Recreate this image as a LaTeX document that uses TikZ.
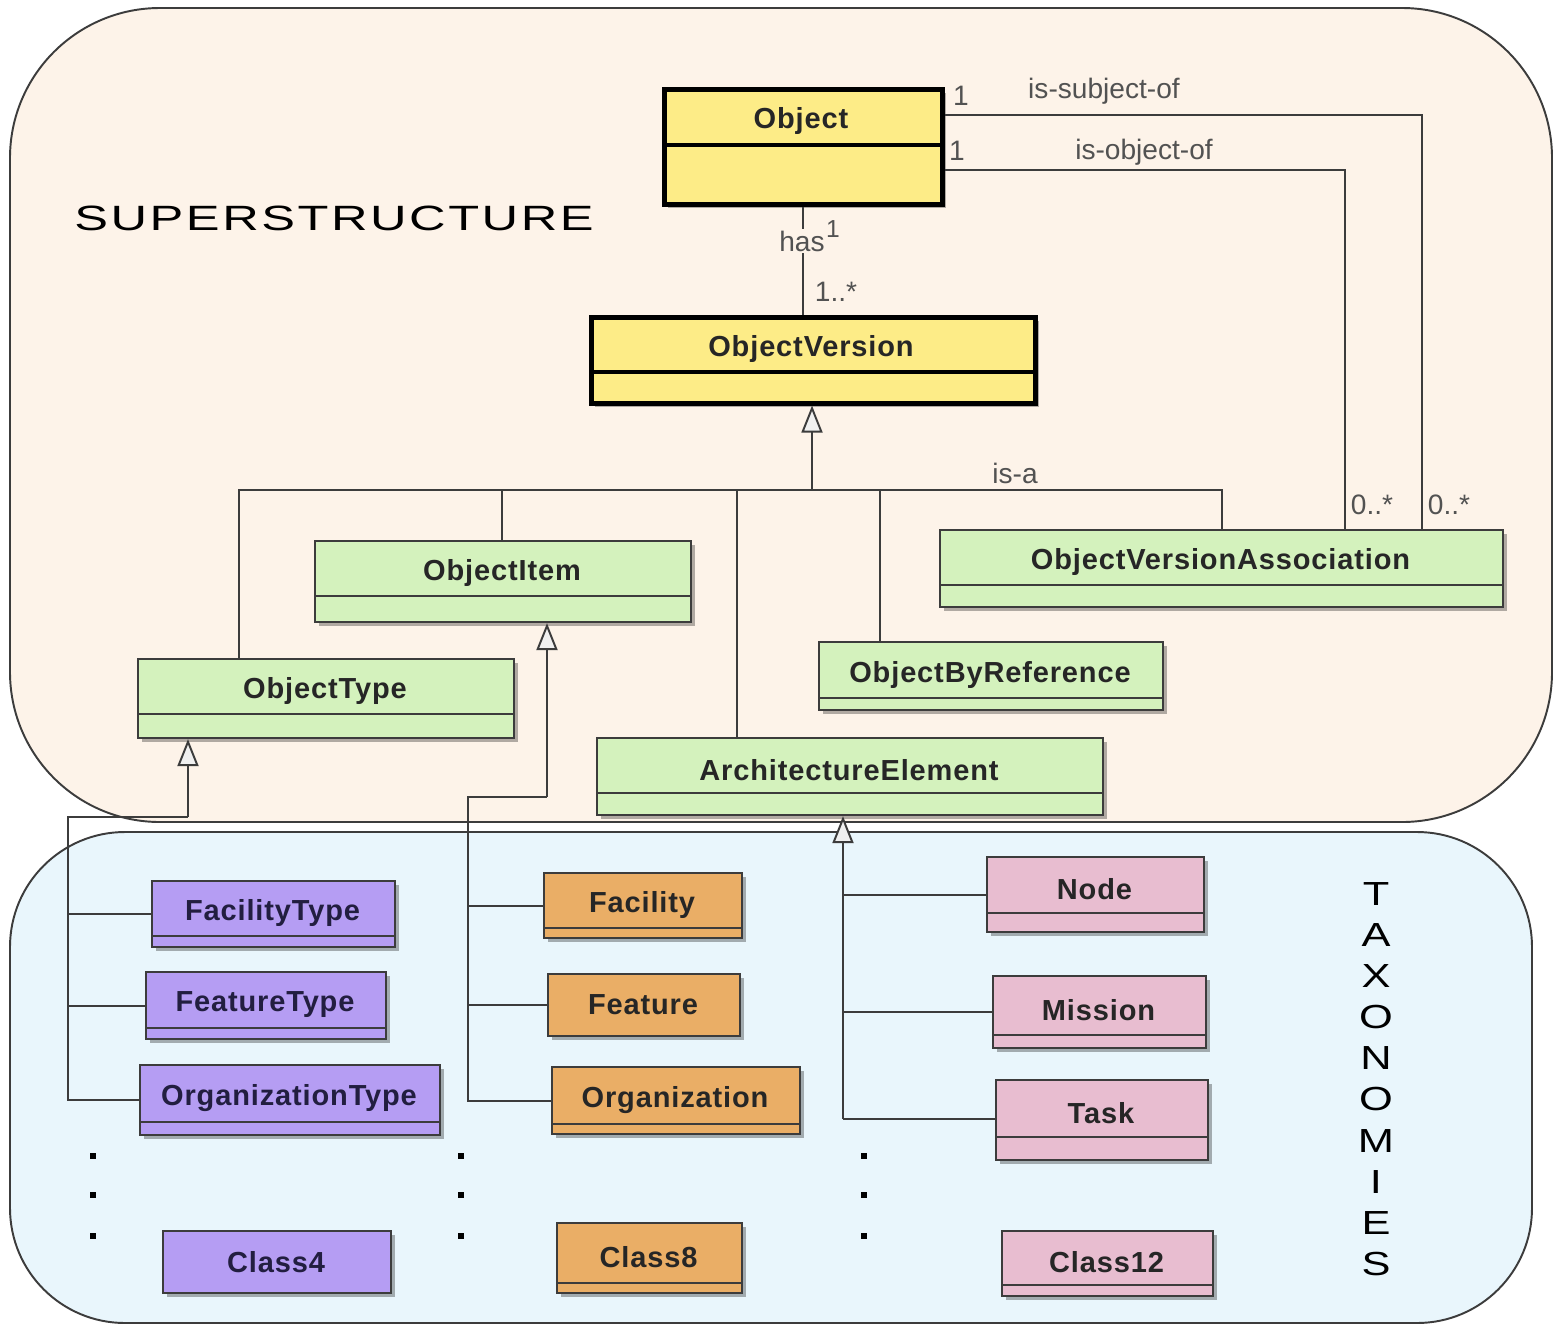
\documentclass[tikz,border=0pt]{standalone}
\usepackage{fontspec}
\setmainfont{Liberation Sans}
\newfontfamily\boxfont[LetterSpace=3]{Liberation Sans}
\newfontfamily\widefont[LetterSpace=5]{Liberation Sans}
\usetikzlibrary{shadows,arrows.meta}
\definecolor{cream}{HTML}{FDF3E9}
\definecolor{skyb}{HTML}{E9F6FC}
\definecolor{ygold}{HTML}{FDEC87}
\definecolor{gbox}{HTML}{D4F2BD}
\definecolor{pbox}{HTML}{B59DF3}
\definecolor{obox}{HTML}{EAAE66}
\definecolor{kbox}{HTML}{E8BDD0}
\definecolor{ln}{HTML}{3C3C3C}
\newcommand{\wl}[1]{\scalebox{1.3}[1]{#1}}
\tikzset{
  region/.style={draw=ln, line width=1.1pt},
  umlb/.style={draw=ln, line width=1.2pt, inner sep=0pt,
    drop shadow={shadow xshift=0.07cm, shadow yshift=-0.07cm, fill=black, opacity=0.3}},
  thickb/.style={umlb, draw=black, line width=2.6pt},
  divthin/.style={draw=ln, line width=1.2pt},
  divthick/.style={draw=black, line width=2.6pt},
  btxt/.style={font=\boxfont\bfseries\fontsize{16.5}{20}\selectfont, text=black!85},
  ptxt/.style={btxt, text={rgb,255:red,34;green,30;blue,64}},
  lab/.style={font=\fontsize{16}{19}\selectfont, text=black!68, inner sep=1pt},
  conn/.style={draw=ln, line width=1.1pt},
  gen/.style={conn, -{Triangle[length=0.54cm, width=0.42cm, fill=white!94!black]}},
}
% #1 name, #2 fill, #3 x1, #4 y1, #5 x2, #6 y2, #7 divider y (= #6 for none), #8 text, #9 text style
\newcommand{\umlbox}[9]{%
  \node[umlb, fill=#2, minimum width={(#5-#3)*0.02cm}, minimum height={(#6-#4)*0.02cm}, anchor=north west] (#1) at (#3,#4) {};
  \ifnum#7=#6\relax
    \node[#9] (#1-t) at ({(#3+#5)/2},{(#4+#6)/2+1}) {#8};
  \else
    \draw[divthin] (#1.west |- 0,#7) -- (#1.east |- 0,#7);
    \node[#9] (#1-t) at ({(#3+#5)/2},{(#4+#7)/2+5}) {#8};
  \fi
}
\newcommand{\umlboxthick}[8]{%
  \node[thickb, fill=#2, minimum width={(#5-#3)*0.02cm}, minimum height={(#6-#4)*0.02cm}, anchor=north west] (#1) at (#3,#4) {};
  \draw[divthick] (#1.west |- 0,#7) -- (#1.east |- 0,#7);
  \node[btxt] (#1-t) at ({(#3+#5)/2},{(#4+#7)/2+5}) {#8};
}
\begin{document}
\begin{tikzpicture}[x=0.02cm, y=-0.02cm]
\useasboundingbox[fill=white] (0,0) rectangle (1562,1326);
% regions
\draw[region, fill=cream, rounded corners=3cm] (10,8) rectangle (1552,822);
\draw[region, fill=skyb, rounded corners=2.3cm] (10,832) rectangle (1532,1323);
\node[font=\widefont\fontsize{20}{24}\selectfont] (sup) at (334,218) {\scalebox{1.44}[1]{SUPERSTRUCTURE}};
\node[font=\fontsize{19}{23.4}\selectfont, align=center] (tax) at (1376,1079) {\wl{T}\\\wl{A}\\\wl{X}\\\wl{O}\\\wl{N}\\\wl{O}\\\wl{M}\\\wl{I}\\\wl{E}\\\wl{S}};

% superstructure boxes
\umlboxthick{o}{ygold}{662}{87}{940}{202}{145}{Object}
\umlboxthick{ov}{ygold}{589}{315}{1033}{401}{372}{ObjectVersion}
\umlbox{oi}{gbox}{314}{540}{690}{621}{596}{ObjectItem}{btxt}
\umlbox{ot}{gbox}{137}{658}{513}{737}{714}{ObjectType}{btxt}
\umlbox{ova}{gbox}{939}{529}{1502}{606}{585}{ObjectVersionAssociation}{btxt}
\umlbox{obr}{gbox}{818}{641}{1162}{709}{698}{ObjectByReference}{btxt}
\umlbox{ae}{gbox}{596}{737}{1102}{814}{793}{ArchitectureElement}{btxt}

% taxonomy boxes
\umlbox{ft}{pbox}{151}{880}{394}{946}{936}{FacilityType}{ptxt}
\umlbox{fet}{pbox}{145}{971}{385}{1038}{1028}{FeatureType}{ptxt}
\umlbox{ort}{pbox}{139}{1064}{439}{1134}{1122}{OrganizationType}{ptxt}
\umlbox{c4}{pbox}{162}{1230}{390}{1292}{1292}{Class4}{ptxt}

\umlbox{fa}{obox}{543}{872}{741}{937}{928}{Facility}{btxt}
\umlbox{fe}{obox}{547}{973}{739}{1035}{1035}{Feature}{btxt}
\umlbox{org}{obox}{551}{1066}{799}{1133}{1124}{Organization}{btxt}
\umlbox{c8}{obox}{556}{1222}{741}{1292}{1283}{Class8}{btxt}

\umlbox{nd}{kbox}{986}{856}{1203}{931}{913}{Node}{btxt}
\umlbox{mi}{kbox}{992}{975}{1205}{1047}{1035}{Mission}{btxt}
\umlbox{ta}{kbox}{995}{1079}{1207}{1159}{1137}{Task}{btxt}
\umlbox{c12}{kbox}{1001}{1230}{1212}{1295}{1285}{Class12}{btxt}

% has association
\draw[conn] (o.south) -- (o.south |- ov.north);
\node[lab, fill=cream] (has) at (802,241) {has};
\node[lab, font=\fontsize{14}{16}\selectfont] (has1) at (833,229) {1};
\node[lab] (hasm) at (836,292) {1..*};

% is-subject-of / is-object-of
\coordinate (s1) at (1422,115);
\coordinate (s2) at (1345,170);
\draw[conn] (o.east |- s1) -- (s1) -- (s1 |- ova.north);
\draw[conn] (o.east |- s2) -- (s2) -- (s2 |- ova.north);
\node[lab] (l1a) at (961,96) {1};
\node[lab] (l1b) at (957,151) {1};
\node[lab] (lsub) at (1104,91) {is-subject-of};
\node[lab] (lobj) at (1144,152) {is-object-of};
\node[lab] (m1) at (1372,505) {0..*};
\node[lab] (m2) at (1449,505) {0..*};

% is-a generalization
\coordinate (bus) at (812,490);
\coordinate (b1) at (239,490);
\coordinate (b2) at (502,490);
\coordinate (b3) at (737,490);
\coordinate (b4) at (880,490);
\coordinate (b5) at (1222,490);
\draw[gen] (bus) -- (bus |- ov.south);
\draw[conn] (ot.north -| b1) -- (b1) -- (b5) -- (ova.north -| b5);
\draw[conn] (b2) -- (oi.north -| b2);
\draw[conn] (b3) -- (ae.north -| b3);
\draw[conn] (b4) -- (obr.north -| b4);
\node[lab] (isa) at (1015,473) {is-a};

% ObjectType taxonomy
\coordinate (t1) at (188,817);
\coordinate (v1) at (68,817);
\draw[gen] (t1) -- (t1 |- ot.south);
\draw[conn] (t1) -- (v1) |- (ort.west);
\draw[conn] (v1 |- ft.west) -- (ft.west);
\draw[conn] (v1 |- fet.west) -- (fet.west);

% ObjectItem taxonomy
\coordinate (t2) at (547,797);
\coordinate (v2) at (468,797);
\draw[gen] (t2) -- (t2 |- oi.south);
\draw[conn] (t2) -- (v2) |- (org.west);
\draw[conn] (v2 |- fa.west) -- (fa.west);
\draw[conn] (v2 |- fe.west) -- (fe.west);

% ArchitectureElement taxonomy
\coordinate (v3) at (843,1119);
\draw[gen] (v3) -- (v3 |- ae.south);
\draw[conn] (v3) -- (v3 -| ta.west);
\draw[conn] (v3 |- nd.west) -- (nd.west);
\draw[conn] (v3 |- mi.west) -- (mi.west);

% dots
\foreach \x in {93,461,864}
  \foreach \y in {1156,1195,1236}
    \fill[black] (\x-3,\y-3) rectangle (\x+3,\y+3);
\end{tikzpicture}
\end{document}
